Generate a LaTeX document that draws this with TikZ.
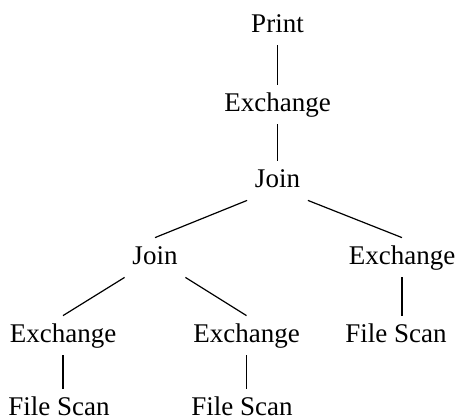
\documentclass[tikz,border=0pt]{standalone}
\usepackage{fontspec}
\setmainfont{Liberation Serif}
\begin{document}
\begin{tikzpicture}[x=0.5pt,y=-0.5pt]
\tikzstyle{every node}=[font=\fontsize{13.5}{16}\selectfont]
\tikzstyle{op}=[anchor=base, text height=9.5pt, text depth=3pt, inner xsep=3.75pt, inner ysep=3.5pt]
\tikzstyle{edge}=[line width=0.6pt]
\useasboundingbox (0,0) rectangle (455,419);

\node[op] (print) at (277.5,32) {Print};
\node[op] (ex1) at (277.5,111) {Exchange};
\node[op] (join1) at (277.5,187) {Join};
\node[op] (join2) at (155,264) {Join};
\node[op] (ex2) at (402,264) {Exchange};
\node[op] (ex3) at (63,342) {Exchange};
\node[op] (ex4) at (246.5,342) {Exchange};
\node[op] (fs2) at (396,342) {File Scan};
\node[op] (fs3) at (59,415.5) {File Scan};
\node[op] (fs4) at (242,415.5) {File Scan};

\draw[edge] (print.south) -- (ex1.north);
\draw[edge] (ex1.south) -- (join1.north);
\draw[edge] (join1.south west) -- (join2.north);
\draw[edge] (join1.south east) -- (ex2.north);
\draw[edge] (join2.south west) -- (ex3.north);
\draw[edge] (join2.south east) -- (ex4.north);
\draw[edge] (ex2.south) -- (ex2.south |- fs2.north);
\draw[edge] (ex3.south) -- (ex3.south |- fs3.north);
\draw[edge] (ex4.south) -- (ex4.south |- fs4.north);
\end{tikzpicture}
\end{document}
